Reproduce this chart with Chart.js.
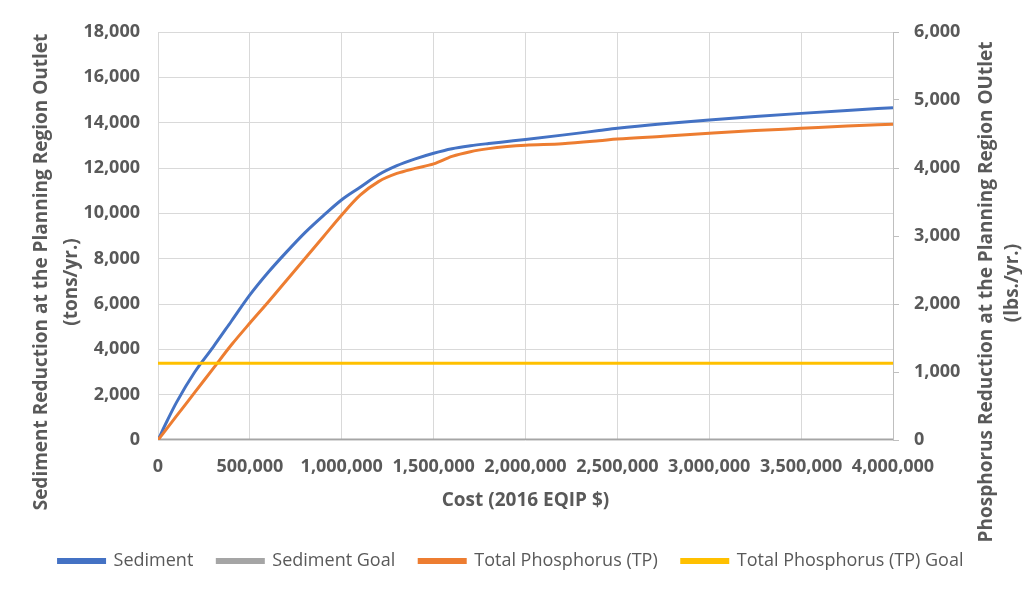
<!DOCTYPE html>
<html>
<head>
<meta charset="utf-8">
<script src="https://cdn.jsdelivr.net/npm/chart.js@4"></script>
<style>
  html, body { margin: 0; padding: 0; background: #fff; }
  #wrap { width: 1022px; height: 589px; }
</style>
</head>
<body>
<div id="wrap"><canvas id="costChart"></canvas></div>
<script>
// cost points (2016 EQIP $)
const costs = [0, 50000, 100000, 200000, 300000, 400000, 500000, 600000, 700000, 800000,
  900000, 1000000, 1100000, 1200000, 1300000, 1400000, 1500000, 1600000, 1700000, 1800000,
  1900000, 2000000, 2200000, 2400000, 2500000, 2750000, 3000000, 3250000, 3500000, 3750000, 4000000];
// sediment reduction, tons/yr
const sediment = [0, 850, 1650, 3000, 4100, 5250, 6400, 7400, 8300, 9150,
  9900, 10600, 11150, 11700, 12100, 12400, 12650, 12850, 12980, 13080,
  13170, 13260, 13450, 13650, 13750, 13950, 14120, 14270, 14410, 14540, 14660];
// total phosphorus reduction, lbs/yr
const phosphorus = [0, 175, 350, 700, 1050, 1400, 1720, 2030, 2350, 2670,
  2990, 3310, 3600, 3800, 3920, 3995, 4060, 4170, 4240, 4285,
  4315, 4335, 4357, 4400, 4425, 4467, 4510, 4550, 4583, 4617, 4643];
const goalCosts = [0, 4000000];
const sedimentGoal = [0, 0];
const phosphorusGoal = [1130, 1130];

const leftTicks = [0, 2000, 4000, 6000, 8000, 10000, 12000, 14000, 16000, 18000];
const rightTicks = [0, 1000, 2000, 3000, 4000, 5000, 6000];

const txt = '#595959';
const fmt = v => Number(v).toLocaleString('en-US');
const pts = (xs, ys) => xs.map((x, i) => ({ x: x, y: ys[i] }));

// y axis titles read bottom to top on both sides
const axisTitles = {
  id: 'axisTitles',
  afterDraw(chart) {
    const ctx = chart.ctx;
    const rows = [
      ['Sediment Reduction at the Planning Region Outlet', 42, 272],
      ['(tons/yr.)', 72, 282],
      ['Phosphorus Reduction at the Planning Region OUtlet', 987, 292],
      ['(lbs./yr.)', 1013, 283]
    ];
    ctx.save();
    ctx.fillStyle = txt;
    ctx.font = 'bold 19px "Open Sans"';
    ctx.textAlign = 'center';
    ctx.textBaseline = 'middle';
    rows.forEach(r => {
      ctx.save();
      ctx.translate(r[1], r[2]);
      ctx.rotate(-Math.PI / 2);
      ctx.fillText(r[0], 0, 0);
      ctx.restore();
    });
    ctx.restore();
  }
};

new Chart('costChart', {
  type: 'line',
  data: {
    datasets: [
      { label: 'Sediment', data: pts(costs, sediment), yAxisID: 'y',
        borderColor: '#4472C4', backgroundColor: '#4472C4', order: 4 },
      { label: 'Sediment Goal', data: pts(goalCosts, sedimentGoal), yAxisID: 'y',
        borderColor: '#A5A5A5', backgroundColor: '#A5A5A5', order: 3 },
      { label: 'Total Phosphorus (TP)', data: pts(costs, phosphorus), yAxisID: 'y2',
        borderColor: '#ED7D31', backgroundColor: '#ED7D31', order: 2 },
      { label: 'Total Phosphorus (TP) Goal', data: pts(goalCosts, phosphorusGoal), yAxisID: 'y2',
        borderColor: '#FFC000', backgroundColor: '#FFC000', order: 1 }
    ]
  },
  options: {
    responsive: true,
    maintainAspectRatio: false,
    animation: false,
    layout: { padding: { top: 32, bottom: 9, left: 0, right: 0 } },
    elements: {
      point: { radius: 0 },
      line: { borderWidth: 3, cubicInterpolationMode: 'monotone' }
    },
    plugins: {
      tooltip: { enabled: false },
      legend: {
        position: 'bottom',
        labels: {
          boxWidth: 46, boxHeight: 3, padding: 24, color: txt,
          font: { family: 'Open Sans', size: 18 },
          sort: (a, b) => a.datasetIndex - b.datasetIndex
        }
      }
    },
    scales: {
      x: {
        type: 'linear', min: 0, max: 4000000,
        afterBuildTicks: s => { s.ticks = costs.filter(c => c % 500000 === 0).map(v => ({ value: v })); },
        afterFit: s => { s.height = 88; },
        grid: { color: '#d9d9d9', drawTicks: false },
        border: { display: false },
        ticks: { color: txt, padding: 16, maxRotation: 0, font: { family: 'Open Sans', size: 18, weight: 'bold' }, callback: v => fmt(v) },
        title: { display: true, text: 'Cost (2016 EQIP $)', color: txt,
          font: { family: 'Open Sans', size: 19, weight: 'bold' }, padding: { top: 0, bottom: 16 } }
      },
      y: {
        position: 'left', min: 0, max: 18000,
        afterBuildTicks: s => { s.ticks = leftTicks.map(v => ({ value: v })); },
        afterFit: s => { s.width = 158; },
        grid: { color: '#d9d9d9', drawTicks: false },
        border: { display: false },
        ticks: { color: txt, padding: 18, font: { family: 'Open Sans', size: 18, weight: 'bold' }, callback: v => fmt(v) }
      },
      y2: {
        position: 'right', min: 0, max: 6000,
        afterBuildTicks: s => { s.ticks = rightTicks.map(v => ({ value: v })); },
        afterFit: s => { s.width = 129; },
        grid: { drawOnChartArea: false, color: '#bfbfbf', tickLength: 6 },
        border: { display: true, color: '#bfbfbf' },
        ticks: { color: txt, padding: 15, font: { family: 'Open Sans', size: 18, weight: 'bold' }, callback: v => fmt(v) }
      }
    }
  },
  plugins: [axisTitles]
});
</script>
</body>
</html>
